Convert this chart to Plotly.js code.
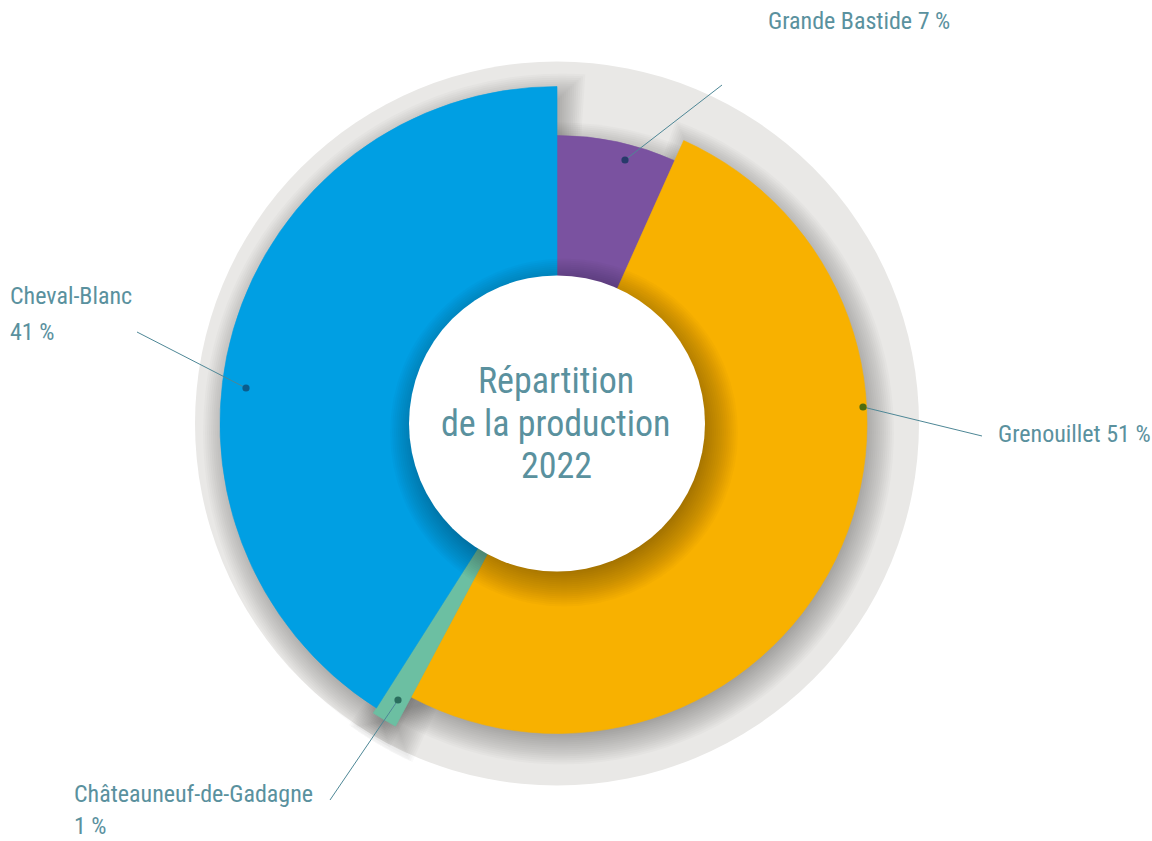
<!DOCTYPE html>
<html><head><meta charset="utf-8">
<script src="https://cdn.plot.ly/plotly-3.0.1.min.js"></script>
<style>html,body{margin:0;padding:0;background:#fff}#chart{width:1152px;height:841px}</style>
</head><body><div id="chart"></div>
<script>
// ---- data ----
const categories = ['Grande Bastide', 'Grenouillet', 'Châteauneuf-de-Gadagne', 'Cheval-Blanc'];
const shares = [6.7, 51.1, 1.2, 41.0];
const labelLines = [['Grande Bastide 7 %'], ['Grenouillet 51 %'], ['Châteauneuf-de-Gadagne', '1 %'], ['Cheval-Blanc', '41 %']];
const titleLines = ['Répartition', 'de la production', '2022'];

// ---- styles / positions ----
const sliceColors = ['#7a52a0', '#f8b100', '#6cbfa2', '#009fe3'];
const dotColors = ['#283a6b', '#4d6b0e', '#2a6e5e', '#0b5c8c'];
const sliceRadius = [288, 310, 343, 337];
const leaderFrom = [[625, 160], [863, 407], [398, 700], [246, 388]];
const leaderTo = [[722, 85], [982, 436], [330, 800], [137, 332]];
const labelPos = [[767, [21]], [997, [434]], [73, [794, 826]], [9, [296, 332]]];

const W = 1152, H = 841, CX = 557, CY = 423.5, RBG = 362, RHOLE = 148;
const FONT = 'Liberation Sans Narrow, Roboto Condensed, DejaVu Sans Condensed, Arial Narrow, sans-serif';
const TXT = '#5a919e';

function dom(cx, cy, r) { return { x: [(cx - r) / W, (cx + r) / W], y: [(H - cy - r) / H, (H - cy + r) / H] }; }
function polarCfg(cx, cy) {
  return {
    domain: dom(cx, cy, RBG), bgcolor: 'rgba(0,0,0,0)', hole: 0,
    radialaxis: { visible: false, range: [0, RBG], showgrid: false, showline: false },
    angularaxis: { visible: false, direction: 'clockwise', rotation: 90, showgrid: false, showline: false }
  };
}
const px = x => x / W, py = y => 1 - y / H;

// angular geometry from shares
const centers = [], widths = [];
let acc = 0;
shares.forEach(s => { const w = s * 3.6; centers.push(acc + w / 2); widths.push(w); acc += w; });

const traces = [];
// soft drop-shadow layers (drawn in an offset polar subplot)
for (let d = -12; d <= 22; d += 2) {
  traces.push({
    type: 'barpolar', subplot: 'polar', hoverinfo: 'skip',
    r: sliceRadius.map(r => r + d), base: sliceRadius.map(() => 0),
    theta: centers,
    width: widths.map((w, i) => Math.max(0.2, w + 2 * (d / sliceRadius[i]) * 180 / Math.PI)),
    marker: { color: 'rgba(0,0,0,0.018)', line: { width: 0 } }
  });
}
// slices
traces.push({
  type: 'barpolar', subplot: 'polar2', name: 'production', hoverinfo: 'skip',
  r: sliceRadius, base: sliceRadius.map(() => 0), theta: centers, width: widths,
  text: categories,
  marker: { color: sliceColors, line: { color: sliceColors, width: 0.6 } }
});

function circ(cx, cy, r, fill, layer) {
  return { type: 'circle', xref: 'paper', yref: 'paper', xsizemode: 'pixel', ysizemode: 'pixel',
    xanchor: px(cx), yanchor: py(cy), x0: -r, x1: r, y0: -r, y1: r,
    fillcolor: fill, line: { width: 0 }, layer: layer };
}
const shapes = [];
shapes.push(circ(CX, CY, RBG, '#e9e8e6', 'below'));
for (let d = 26; d >= -10; d -= 2) shapes.push(circ(CX + 7, CY + 9, RHOLE + d, 'rgba(0,0,0,0.02)', 'above'));
shapes.push(circ(CX, CY, RHOLE, '#ffffff', 'above'));
leaderFrom.forEach((p, i) => {
  shapes.push({ type: 'line', xref: 'paper', yref: 'paper', x0: px(p[0]), y0: py(p[1]),
    x1: px(leaderTo[i][0]), y1: py(leaderTo[i][1]), line: { color: '#4e8796', width: 1 }, layer: 'above' });
  shapes.push(circ(p[0], p[1], 3.6, dotColors[i], 'above'));
});

const annotations = [];
labelLines.forEach((lines, i) => {
  lines.forEach((t, j) => annotations.push({
    xref: 'paper', yref: 'paper', x: px(labelPos[i][0]), y: py(labelPos[i][1][j]),
    xanchor: 'left', yanchor: 'middle', showarrow: false, text: t, borderpad: 0,
    font: { family: FONT, size: 24, color: TXT }
  }));
});
const titleY = [381, 424, 466];
titleLines.forEach((t, j) => annotations.push({
  xref: 'paper', yref: 'paper', x: px(556), y: py(titleY[j]), xanchor: 'center', yanchor: 'middle',
  showarrow: false, text: t, font: { family: FONT, size: 36, color: TXT }
}));

const layout = {
  width: W, height: H, margin: { l: 0, r: 0, t: 0, b: 0, pad: 0 },
  paper_bgcolor: '#ffffff', plot_bgcolor: '#ffffff', showlegend: false,
  polar: polarCfg(CX + 5, CY + 9), polar2: polarCfg(CX, CY),
  shapes: shapes, annotations: annotations, barmode: 'overlay'
};
Plotly.newPlot('chart', traces, layout, { displayModeBar: false, staticPlot: true });
</script></body></html>
